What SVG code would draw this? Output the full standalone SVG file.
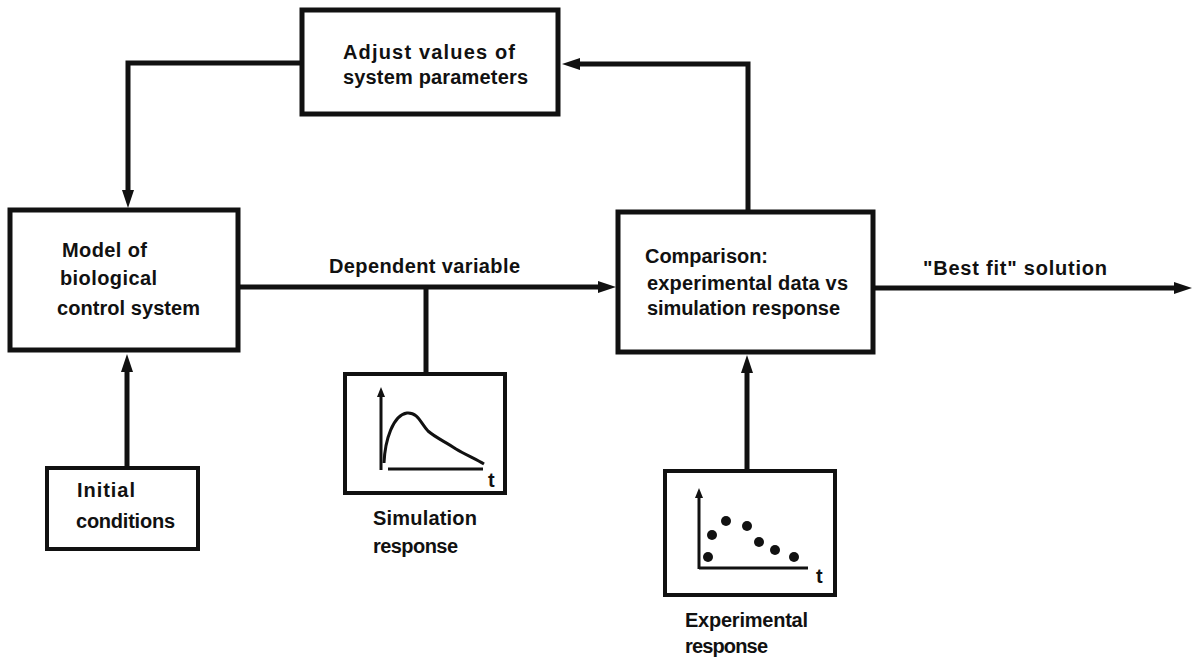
<svg xmlns="http://www.w3.org/2000/svg" width="1194" height="658" viewBox="0 0 1194 658">
<style>
.box{fill:#fff;stroke:#111;stroke-width:5}
.sbox{fill:#fff;stroke:#111;stroke-width:4}
.conn{fill:none;stroke:#111;stroke-width:5}
.ax{fill:none;stroke:#111;stroke-width:3}
text{font-family:"Liberation Sans",Arial,sans-serif;font-weight:bold;font-size:20px;fill:#111}
</style>
<defs>
<marker id="ah" markerUnits="userSpaceOnUse" markerWidth="18" markerHeight="12" refX="0" refY="6" orient="auto" overflow="visible">
<path d="M0,0 L18,6 L0,12 z" fill="#111"/>
</marker>
<marker id="sah" markerUnits="userSpaceOnUse" markerWidth="10" markerHeight="8" refX="0" refY="4" orient="auto" overflow="visible">
<path d="M0,0 L10,4 L0,8 z" fill="#111"/>
</marker>
</defs>
<rect width="1194" height="658" fill="#fff"/>
<g id="connectors">
<path class="conn" d="M302,63 H128 V190" marker-end="url(#ah)"/>
<path class="conn" d="M127,468 V372" marker-end="url(#ah)"/>
<path class="conn" d="M238,287 H598" marker-end="url(#ah)"/>
<path class="conn" d="M426,287 V374"/>
<path class="conn" d="M748,212 V64 H580" marker-end="url(#ah)"/>
<path class="conn" d="M747,471 V373" marker-end="url(#ah)"/>
<path class="conn" d="M875,288 H1174" marker-end="url(#ah)"/>
<text x="329" y="273" textLength="191">Dependent variable</text>
<text x="923" y="275" textLength="184">"Best fit" solution</text>
</g>
<g id="adjust">
<rect class="box" x="302" y="10" width="256" height="104"/>
<text x="343" y="59" textLength="172">Adjust values of</text>
<text x="343" y="84" textLength="185">system parameters</text>
</g>
<g id="model">
<rect class="box" x="10" y="210" width="228" height="140"/>
<text x="62" y="257" textLength="85">Model of</text>
<text x="60" y="285" textLength="97">biological</text>
<text x="57" y="315" textLength="143">control system</text>
</g>
<g id="comparison">
<rect class="box" x="618" y="212" width="255" height="140"/>
<text x="645" y="263" textLength="123">Comparison:</text>
<text x="647" y="290" textLength="201">experimental data vs</text>
<text x="647" y="315" textLength="193">simulation response</text>
</g>
<g id="initial">
<rect class="sbox" x="47" y="468" width="151" height="81"/>
<text x="77" y="497" textLength="58">Initial</text>
<text x="76" y="528" textLength="99">conditions</text>
</g>
<g id="simulation">
<rect class="sbox" x="345" y="374" width="160" height="119"/>
<path class="ax" d="M381,470 V397" marker-end="url(#sah)"/>
<path class="ax" d="M388,469 H483"/>
<path class="ax" d="M384,463 C385,440 393,415 407,413 C418,412 421,424 428,431 C436,438 446,442 456,449 C466,455 476,459 484,464"/>
<text x="488" y="487" font-size="19">t</text>
<text x="373" y="525" textLength="104">Simulation</text>
<text x="373" y="553" textLength="85">response</text>
</g>
<g id="experimental">
<rect class="sbox" x="665" y="471" width="170" height="124"/>
<path class="ax" d="M699,569 V498" marker-end="url(#sah)"/>
<path class="ax" d="M699,568 H808"/>
<g fill="#111">
<circle cx="708" cy="557" r="5"/>
<circle cx="712" cy="535" r="5"/>
<circle cx="726" cy="521" r="5"/>
<circle cx="747" cy="526" r="5"/>
<circle cx="759" cy="542" r="5"/>
<circle cx="775" cy="550" r="5"/>
<circle cx="794" cy="557" r="5"/>
</g>
<text x="816" y="583" font-size="19">t</text>
<text x="685" y="627" textLength="123">Experimental</text>
<text x="685" y="653" textLength="83">response</text>
</g>
</svg>
